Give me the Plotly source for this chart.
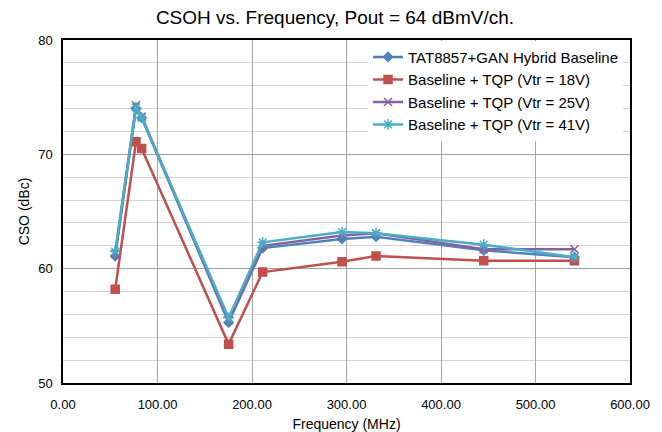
import plotly.graph_objects as go

freq = [55.25, 77.25, 83.25, 175.25, 211.25, 295.25, 331.25, 445.25, 541.25]
baseline = [61.1, 74.0, 73.2, 55.3, 61.8, 62.6, 62.8, 61.6, 61.0]
vtr18 = [58.2, 71.1, 70.5, 53.4, 59.7, 60.6, 61.1, 60.7, 60.7]
vtr25 = [61.3, 74.3, 73.3, 55.5, 62.0, 62.9, 63.1, 61.7, 61.7]
vtr41 = [61.5, 74.1, 73.2, 55.7, 62.3, 63.2, 63.1, 62.1, 61.0]

names = ["TAT8857+GAN Hybrid Baseline", "Baseline + TQP (Vtr = 18V)",
         "Baseline + TQP (Vtr = 25V)", "Baseline + TQP (Vtr = 41V)"]
colors = ["#4F81BD", "#C0504D", "#8064A2", "#4BACC6"]
symbols = ["diamond", "square", "x-thin-open", "asterisk-open"]
sizes = [7, 8, 8, 9]
series = [baseline, vtr18, vtr25, vtr41]

fig = go.Figure()
for n, c, s, sz, ys in zip(names, colors, symbols, sizes, series):
    fig.add_trace(go.Scatter(
        x=freq, y=ys, name=n, mode="lines+markers",
        line=dict(color=c, width=2.5),
        marker=dict(symbol=s, size=sz, color=c, line=dict(color=c, width=1.5)),
    ))

font = "Liberation Sans, Arial, sans-serif"
fig.update_layout(
    width=662, height=432,
    margin=dict(l=63, r=32, t=40, b=49),
    paper_bgcolor="white", plot_bgcolor="white",
    font=dict(family=font, size=13, color="#000000"),
    title=dict(text="CSOH vs. Frequency, Pout = 64 dBmV/ch.", x=0.506, xref="container",
               xanchor="center",
               y=0.96, yref="container", yanchor="middle",
               font=dict(size=19, family=font, color="#000000")),
    legend=dict(x=0.538, y=0.998, xanchor="left", yanchor="top",
                bgcolor="white", borderwidth=0,
                font=dict(size=15, family=font), tracegroupgap=0,
                itemwidth=30),
    showlegend=True,
)
fig.update_xaxes(
    range=[0, 600], dtick=100, tick0=0, tickformat=".2f",
    showgrid=True, gridcolor="#a6a6a6", gridwidth=1,
    showline=True, linecolor="#000000", linewidth=1.5, mirror=True,
    ticks="", zeroline=False, automargin=False, ticklabelstandoff=9,
    title=dict(text="Frequency (MHz)", font=dict(size=14), standoff=9),
    tickfont=dict(size=13),
)
fig.update_yaxes(
    range=[50, 80], dtick=10, tick0=50,
    showgrid=True, gridcolor="#a0a0a0", gridwidth=1,
    minor=dict(dtick=2, showgrid=True, gridcolor="#d4d4d4", gridwidth=1),
    showline=True, linecolor="#000000", linewidth=1.5, mirror=True,
    ticks="", zeroline=False, automargin=False, ticklabelstandoff=6,
    title=dict(text="CSO (dBc)", font=dict(size=14), standoff=5),
    tickfont=dict(size=13),
)
fig.write_html("out.html")
